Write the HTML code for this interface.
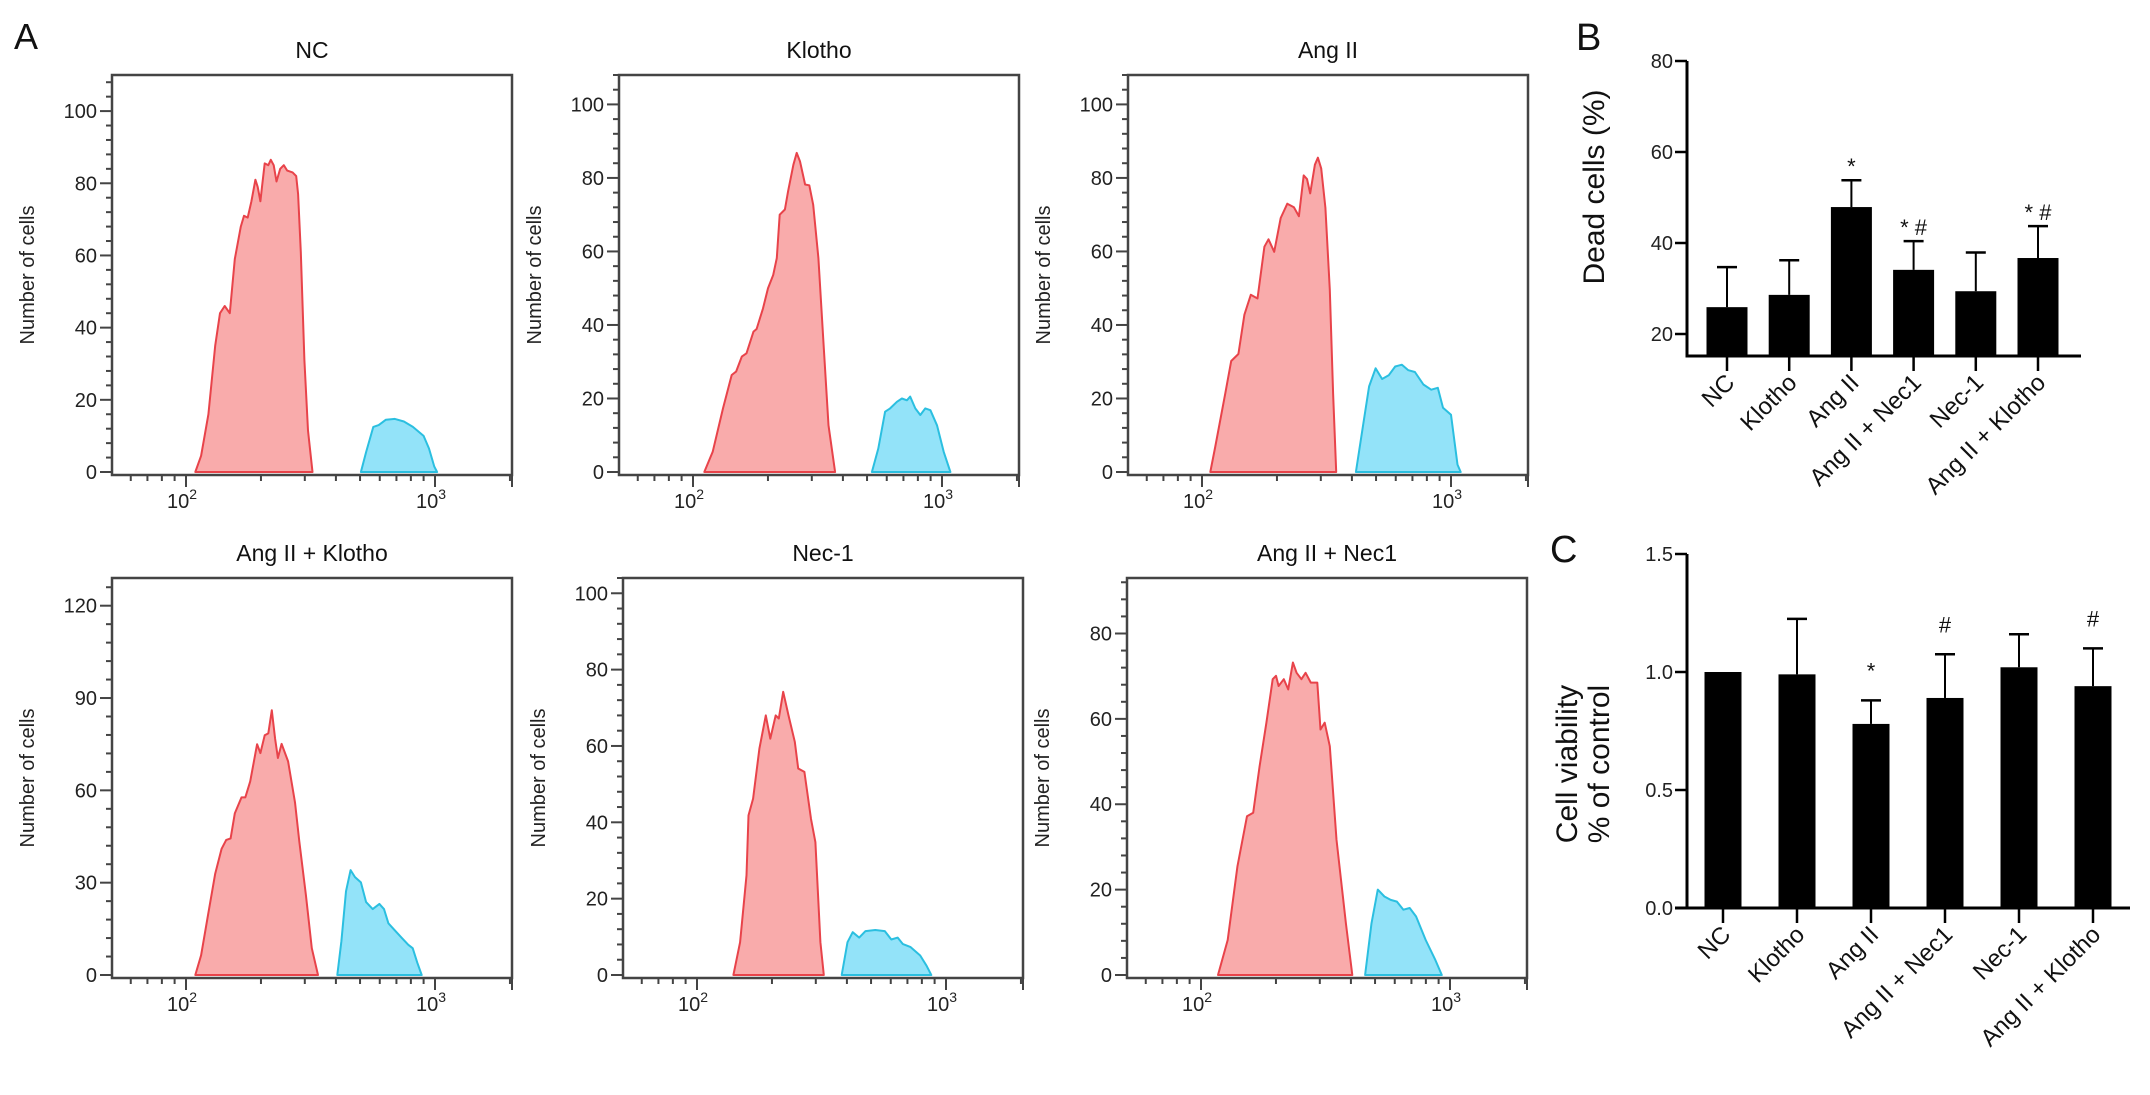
<!DOCTYPE html>
<html><head><meta charset="utf-8">
<style>
html,body{margin:0;padding:0;background:#fff;}
svg{display:block;font-family:"Liberation Sans",Arial,sans-serif;}
</style></head>
<body>
<svg id="fig" width="2150" height="1095" viewBox="0 0 2150 1095" xmlns="http://www.w3.org/2000/svg">
<text x="14" y="49" font-size="36" fill="#111">A</text>
<text x="1576" y="50" font-size="38" fill="#111">B</text>
<text x="1550" y="562" font-size="38" fill="#111">C</text>
</svg>
<script>
// ---------- Histogram data (x = fluorescence, y = number of cells) ----------
const histTitles = ["NC","Klotho","Ang II","Ang II + Klotho","Nec-1","Ang II + Nec1"];
const histYMax = [110,108,108,129,104,93];
const histYStep = [20,20,20,30,20,20];
const histYMaxTick = [100,100,100,120,100,80];

const ncRedX = [109,115,123,131,137,143,150,157,166,171,177,183,190,194,199,202,207,214,219,225,231,239,247,255,268,277,282,289,299,309,322];
const ncRedY = [0,4.5,16,35,44,46,44,59,68,71,70.5,75,81,79,75,79,85.5,85,86.5,85,80.5,84,85,83.5,83,82,77,61,31,11.5,0];
const ncBlueX = [504,529,565,594,635,690,750,815,900,946,994,1020];
const ncBlueY = [0,5.5,12.5,13,14.5,14.7,14,12.5,10,6.5,1.5,0];

const klRedX = [111,120,132,143,149,157,164,175,180,191,200,210,217,223,234,241,253,261,269,282,293,304,319,334,350,372];
const klRedY = [0,5.5,17.3,26.4,27.3,31.4,32.3,38.2,38.9,44.5,50,53.6,58.2,70,71.4,76.4,83.6,86.8,84.5,78.2,78,72.7,58.2,35.5,12.7,0];
const klBlueX = [523,555,591,619,659,690,723,745,781,818,857,898,955,1016,1081];
const klBlueY = [0,6.4,16.4,17.3,19.1,20,19.5,20.5,17.3,15.5,17.3,16.8,12.7,5.5,0];

const agRedX = [108,113,124,131,140,148,157,167,178,185,195,207,220,234,245,256,264,272,284,292,301,313,326,336,346];
const agRedY = [0,6.8,21.4,30.2,32.1,42.8,48.2,47.2,61.3,63.3,59.9,69.1,73,72,69.6,80.7,79.7,75.8,83.6,85.5,82.6,71.9,49.6,21.4,0];
const agBlueX = [415,441,469,498,529,562,597,635,674,716,775,833,885,929,1000,1062,1094];
const agBlueY = [0,11.7,23.3,28.2,25.3,26.3,28.7,29.2,27.7,27.2,23.8,22.4,22.9,17.5,15.6,2,0];

const akRedX = [109,115,123,131,139,145,151,157,167,173,181,193,199,207,214,221,228,234,242,257,274,285,303,320,339];
const akRedY = [0,6.4,20.2,32.9,41,43.9,44.4,52.5,57.7,57.7,62.9,75,72.1,77.9,78.5,86,76.8,70.5,75.1,69.4,56.1,43.4,26,8.7,0];
const akBlueX = [405,421,439,458,477,504,529,562,598,624,650,690,735,781,814,849,884];
const akBlueY = [0,11,27.2,34.1,31.8,30.1,23.7,21.4,23.1,21.4,16.8,14.5,12.1,9.8,8.7,4,0];

const neRedX = [140,149,158,161,168,178,189,197,207,213,222,233,247,255,270,287,299,313,323];
const neRedY = [0,8.6,26.1,41.8,46.2,59.3,68,61.9,68,67.2,74.2,68,61.1,54.1,53.2,40.9,34.8,8.6,0];
const neBlueX = [381,402,422,448,475,520,568,603,640,671,721,788,836,873];
const neBlueY = [0,8.6,11.2,9.8,11.5,11.8,11.5,9.3,9.8,8.1,7.3,5.1,2.4,0];

const anRedX = [117,128,140,153,162,172,183,194,200,205,215,224,234,242,253,263,276,293,302,314,329,350,382,405];
const anRedY = [0,8.2,25.4,37.2,38,48.9,59.1,69.3,70.1,67.7,69.3,66.9,73.2,70.8,69.3,70.8,68.5,68.5,57.5,59.1,53.6,31.7,12.1,0];
const anBlueX = [456,484,513,545,578,612,650,689,731,799,874,927];
const anBlueY = [0,12.1,20,18.4,17.6,17.2,15.3,15.7,13.7,8.2,3.5,0];

// ---------- Bar chart data ----------
const barCats = ["NC","Klotho","Ang II","Ang II + Nec1","Nec-1","Ang II + Klotho"];
const deadMean = [25.9,28.6,47.9,34.1,29.4,36.7];
const deadErr  = [34.7,36.2,53.8,40.4,37.9,43.7];
const deadMarks = ["","","*","* #","","* #"];
const deadTicks = [20,40,60,80];
const viabMean = [1.0,0.99,0.78,0.89,1.02,0.94];
const viabErr  = [1.0,1.225,0.88,1.075,1.16,1.10];
const viabMarks = ["","","*","#","","#"];
const viabTicks = [0.0,0.5,1.0,1.5];
const viabTickLabels = ["0.0","0.5","1.0","1.5"];

const NS = "http://www.w3.org/2000/svg";
const svg = document.getElementById('fig');
function mk(tag, attrs, parent){
  const e = document.createElementNS(NS, tag);
  for (const k in attrs) e.setAttribute(k, attrs[k]);
  (parent||svg).appendChild(e);
  return e;
}

const redXs=[ncRedX,klRedX,agRedX,akRedX,neRedX,anRedX];
const redYs=[ncRedY,klRedY,agRedY,akRedY,neRedY,anRedY];
const blueXs=[ncBlueX,klBlueX,agBlueX,akBlueX,neBlueX,anBlueX];
const blueYs=[ncBlueY,klBlueY,agBlueY,akBlueY,neBlueY,anBlueY];
const offX=[0,507,1016,0,511,1015];
const topY=[75,75,75,578,578,578];

for (let p=0;p<6;p++){
  const ox=offX[p], fTop=topY[p], fBot=fTop+400, y0=fBot-3;
  const fL=112+ox, fR=512+ox;
  const g = mk('g',{});
  
  
  const xs = v => 186+ox+(Math.log10(v)-2)*249;
  const ys = v => y0-v*(y0-fTop)/histYMax[p];
  // title
  const t=mk('text',{x:(fL+fR)/2,y:fTop-17,'font-size':23,'text-anchor':'middle',fill:'#111'},g);
  t.textContent=histTitles[p];
  
  
  // series
  const series=[[redXs[p],redYs[p],'rgba(247,150,150,0.8)','#e8434a','red-peak'],[blueXs[p],blueYs[p],'rgba(120,220,248,0.8)','#2bbfe0','blue-peak']];
  for (const s of series){
    let d='M'+xs(s[0][0]).toFixed(1)+','+y0;
    for (let i=0;i<s[0].length;i++) d+=' L'+xs(s[0][i]).toFixed(1)+','+ys(s[1][i]).toFixed(1);
    d+=' L'+xs(s[0][s[0].length-1]).toFixed(1)+','+y0+' Z';
    const pa=mk('path',{d:d,fill:s[2],stroke:s[3],'stroke-width':2,'stroke-linejoin':'round'},g);
    
    
  }
  // frame
  const fr=mk('rect',{x:fL,y:fTop,width:fR-fL,height:fBot-fTop,fill:'none',stroke:'#444','stroke-width':2.5},g);
  
  
  // y ticks
  const st=histYStep[p], minor=st/5;
  for (let v=0; v<=histYMax[p]+0.01; v+=minor){
    const isMaj = Math.abs(v/st-Math.round(v/st))<1e-6 && v<=histYMaxTick[p];
    const y=ys(v);
    mk('line',{x1:fL-(isMaj?12:6),x2:fL,y1:y,y2:y,stroke:'#444','stroke-width':2},g);
    if(isMaj){
      const tl=mk('text',{x:fL-15,y:y+7,'font-size':20,'text-anchor':'end',fill:'#222'},g);
      tl.textContent=String(Math.round(v));
      
      
    }
  }
  // x ticks (log)
  const xmin=Math.pow(10,(fL-186-ox)/249+2), xmax=Math.pow(10,(fR-186-ox)/249+2);
  for (let dec=10; dec<=1000; dec*=10){
    for (let m=1;m<10;m++){
      const v=dec*m; if(v<xmin||v>xmax) continue;
      const x=xs(v), maj=(m===1);
      mk('line',{x1:x,x2:x,y1:fBot,y2:fBot+(maj?12:6),stroke:'#444','stroke-width':2},g);
      if(maj){
        const tl=mk('text',{x:x-4,y:fBot+33,'font-size':20,'text-anchor':'middle',fill:'#222'},g);
        tl.textContent='10';
        const sp=mk('tspan',{dy:-9,'font-size':14},tl);
        sp.textContent=String(Math.round(Math.log10(v)));
        
        
      }
    }
  }
  mk('line',{x1:fR,x2:fR,y1:fBot,y2:fBot+12,stroke:'#444','stroke-width':2},g);
  // y title
  const cy=(fTop+fBot)/2;
  const yt=mk('text',{x:27+ox,y:cy,'font-size':20,'text-anchor':'middle',fill:'#222',transform:'rotate(-90 '+(27+ox)+' '+cy+') translate(0 7)'},g);
  yt.textContent='Number of cells';
  
  
}

// ---------- Bar charts ----------
function barChart(cfg){
  const g=mk('g',{});
  
  
  const ys=cfg.ys;
  const cx=i=>cfg.x0+i*cfg.pitch;
  for (let i=0;i<cfg.mean.length;i++){
    const x=cx(i), yt=ys(cfg.mean[i]), ye=ys(cfg.err[i]);
    if (cfg.err[i]>cfg.mean[i]){
      const el=mk('line',{x1:x,x2:x,y1:yt,y2:ye,stroke:'#000','stroke-width':2},g);
      
      
      mk('line',{x1:x-10,x2:x+10,y1:ye,y2:ye,stroke:'#000','stroke-width':2.5},g);
    }
    const r=mk('rect',{x:x-cfg.bw/2,y:yt,width:cfg.bw,height:cfg.base-yt,fill:'#000'},g);
    
    
    if (cfg.marks[i]){
      const m=mk('text',{x:x,y:ye-cfg.markGap,'font-size':22,'text-anchor':'middle',fill:'#111'},g);
      m.textContent=cfg.marks[i];
      
      
    }
    mk('line',{x1:x,x2:x,y1:cfg.base,y2:cfg.base+15,stroke:'#000','stroke-width':2.5},g);
    const lx=x+9, ly=cfg.base+28;
    const lb=mk('text',{x:lx,y:ly,'font-size':24,'text-anchor':'end',fill:'#111',transform:'rotate(-45 '+lx+' '+ly+')'},g);
    lb.textContent=barCats[i];
    
    
  }
  // axes
  mk('line',{x1:cfg.ax,x2:cfg.ax,y1:cfg.top,y2:cfg.base+1.5,stroke:'#000','stroke-width':3},g);
  mk('line',{x1:cfg.xStart,x2:cfg.xEnd,y1:cfg.base,y2:cfg.base,stroke:'#000','stroke-width':3},g);
  for (let i=0;i<cfg.ticks.length;i++){
    const y=ys(cfg.ticks[i]);
    mk('line',{x1:cfg.ax-12,x2:cfg.ax,y1:y,y2:y,stroke:'#000','stroke-width':2.5},g);
    const tl=mk('text',{x:cfg.ax-14,y:y+7,'font-size':20,'text-anchor':'end',fill:'#222'},g);
    tl.textContent=cfg.tickLabels[i];
    
    
  }
}

barChart({name:'dead-cells-chart',mean:deadMean,err:deadErr,marks:deadMarks,ticks:deadTicks,tickLabels:deadTicks.map(String),
  ys:v=>334-(v-20)*4.55, base:356, top:61, ax:1687, xStart:1687, xEnd:2081, x0:1727, pitch:62.2, bw:41, markGap:6});
barChart({name:'cell-viability-chart',mean:viabMean,err:viabErr,marks:viabMarks,ticks:viabTicks,tickLabels:viabTickLabels,
  ys:v=>908-v*236, base:908, top:554, ax:1687, xStart:1675, xEnd:2130, x0:1723, pitch:74, bw:37, markGap:22});

let yt=mk('text',{x:1594,y:187,'font-size':30,'text-anchor':'middle',fill:'#111',transform:'rotate(-90 1594 187) translate(0 10)'});
yt.textContent='Dead cells (%)';


yt=mk('text',{x:1567,y:764,'font-size':30,'text-anchor':'middle',fill:'#111',transform:'rotate(-90 1567 764) translate(0 10)'});
yt.textContent='Cell viability';


yt=mk('text',{x:1599,y:764,'font-size':30,'text-anchor':'middle',fill:'#111',transform:'rotate(-90 1599 764) translate(0 10)'});
yt.textContent='% of control';


</script>
</body></html>
